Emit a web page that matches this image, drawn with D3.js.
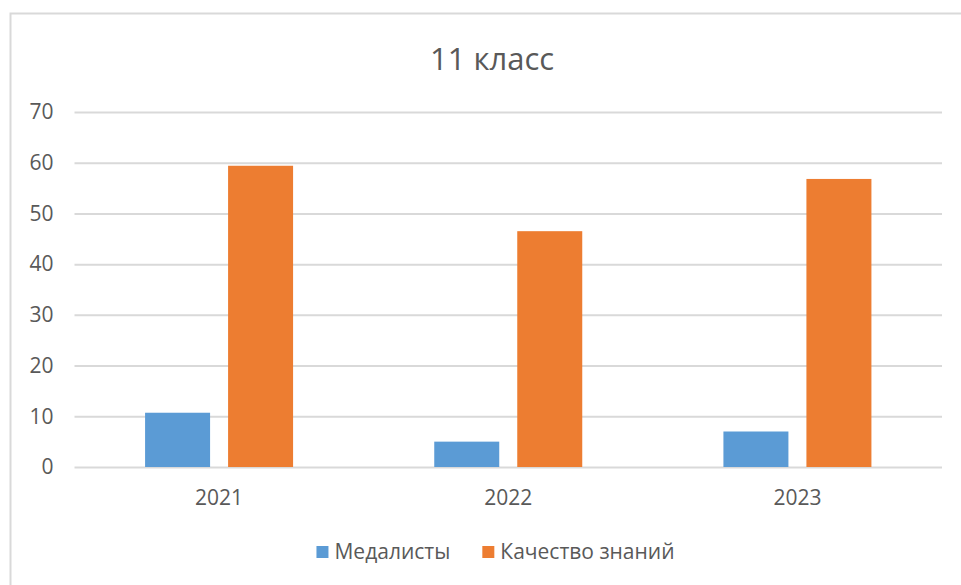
<!DOCTYPE html>
<html>
<head>
<meta charset="utf-8">
<script src="https://cdn.jsdelivr.net/npm/d3@7"></script>
<style>
  html, body { margin: 0; padding: 0; background: #ffffff; }
  svg { display: block; }
  text { font-family: "Open Sans", "Noto Sans", sans-serif; fill: #595959; }
</style>
</head>
<body>
<svg id="chart" width="961" height="585"></svg>
<script>
const title = "11 класс";
const categories = ["2021", "2022", "2023"];
const seriesNames = ["Медалисты", "Качество знаний"];
const medalists = [10.7, 5.0, 7.0];
const quality = [59.4, 46.5, 56.8];
const yTicks = [0, 10, 20, 30, 40, 50, 60, 70];
const colors = ["#5b9bd5", "#ed7d31"];

(function () {
const seriesValues = [medalists, quality];
const rows = categories.map((c, i) => ({
  cat: c,
  vals: seriesNames.map((s, j) => ({ key: s, value: seriesValues[j][i] }))
}));

const svg = d3.select("#chart");

// outer chart border (extends beyond the visible window)
svg.append("rect")
  .attr("x", 10.5).attr("y", 13.5)
  .attr("width", 1200).attr("height", 1200)
  .attr("fill", "none").attr("stroke", "#d9d9d9").attr("stroke-width", 2);

const pLeft = 74.5, pRight = 942, pTop = 112, pBottom = 467;

const x0 = d3.scaleBand().domain(categories).range([pLeft, pRight]).padding(0);
const groupW = 148;
const x1 = d3.scaleBand().domain(seriesNames).range([0, groupW]).paddingInner(18 / 83).paddingOuter(0);
const y = d3.scaleLinear().domain([0, 70]).range([pBottom, pTop]);

// gridlines + y labels
const yAxis = d3.axisLeft(y).tickValues(yTicks).tickSize(-(pRight - pLeft)).tickPadding(21);
const gy = svg.append("g").attr("transform", `translate(${pLeft},0)`).call(yAxis);
gy.select(".domain").remove();
gy.selectAll(".tick line").attr("stroke", "#d9d9d9").attr("stroke-width", 2);
gy.selectAll(".tick text")
  .attr("fill", "#595959")
  .style("font-family", '"Open Sans", "Noto Sans", sans-serif')
  .style("font-size", "21px");

// bars
const groups = svg.append("g").selectAll("g").data(rows).join("g")
  .attr("transform", d => `translate(${x0(d.cat) + (x0.bandwidth() - groupW) / 2},0)`);
groups.selectAll("rect").data(d => d.vals).join("rect")
  .attr("x", d => x1(d.key))
  .attr("width", x1.bandwidth())
  .attr("y", d => y(d.value))
  .attr("height", d => y(0) - y(d.value))
  .attr("fill", (d, i) => colors[i]);

// x axis labels
const xAxis = d3.axisBottom(x0).tickSize(0).tickPadding(23);
const gx = svg.append("g").attr("transform", `translate(0,${pBottom})`).call(xAxis);
gx.select(".domain").remove();
gx.selectAll(".tick text")
  .attr("fill", "#595959")
  .style("font-family", '"Open Sans", "Noto Sans", sans-serif')
  .style("font-size", "21px");

// title
svg.append("text")
  .attr("x", 492).attr("y", 70)
  .attr("text-anchor", "middle")
  .style("font-size", "31px")
  .text(title);

// legend
const legend = svg.append("g");
const items = legend.selectAll("g").data(seriesNames).join("g");
items.append("rect").attr("width", 12).attr("height", 12).attr("y", -13)
  .attr("fill", (d, i) => colors[i]);
items.append("text").attr("x", 18).attr("y", 0).style("font-size", "21px").text(d => d);
let xpos = 0;
const gap = 32;
items.each(function () {
  const g = d3.select(this);
  g.attr("transform", `translate(${xpos},0)`);
  const w = 18 + g.select("text").node().getComputedTextLength();
  xpos += w + gap;
});
const totalW = xpos - gap;
legend.attr("transform", `translate(${495.5 - totalW / 2},559)`);
})();
</script>
</body>
</html>
